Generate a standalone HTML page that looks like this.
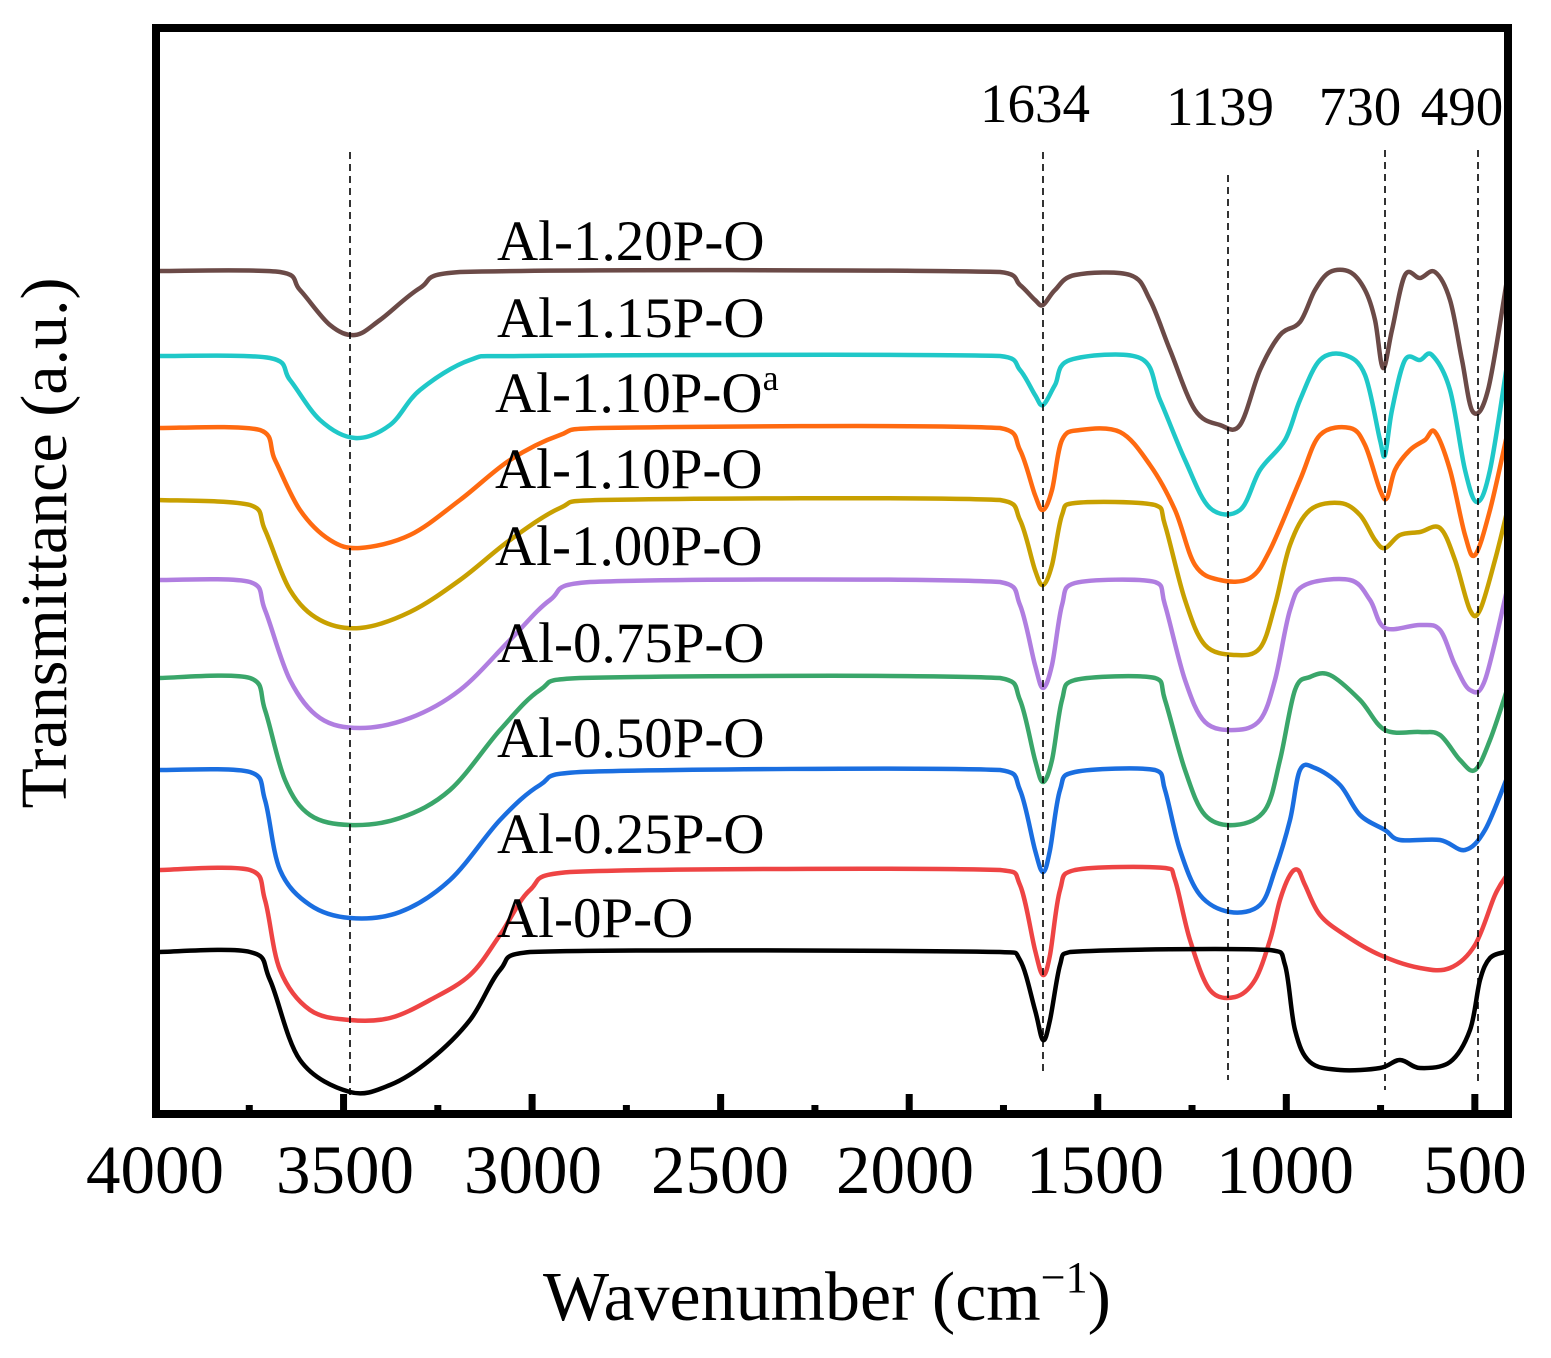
<!DOCTYPE html>
<html><head><meta charset="utf-8"><style>
html,body{margin:0;padding:0;background:#fff;}
svg{display:block;}
text{font-family:"Liberation Serif",serif;fill:#000;}
</style></head><body>
<svg id="s" width="1551" height="1358" viewBox="0 0 1551 1358" xmlns="http://www.w3.org/2000/svg">
<g id="curves" fill="none" stroke-width="4.5" stroke-linejoin="round"></g>
<g stroke="#000" stroke-width="1.6" stroke-dasharray="7,5">
<line x1="350" y1="152" x2="350" y2="1095"/>
<line x1="1043" y1="152" x2="1043" y2="1075"/>
<line x1="1228" y1="175" x2="1228" y2="1080"/>
<line x1="1385" y1="150" x2="1385" y2="1090"/>
<line x1="1478" y1="150" x2="1478" y2="1085"/>
</g>
<rect x="156" y="28" width="1352" height="1086" fill="none" stroke="#000" stroke-width="8"/>
<g id="ticks" fill="#000"></g>
<g font-size="69" text-anchor="middle">
<text x="155" y="1193">4000</text><text x="345" y="1193">3500</text><text x="533" y="1193">3000</text>
<text x="720" y="1193">2500</text><text x="905" y="1193">2000</text><text x="1095" y="1193">1500</text>
<text x="1285" y="1193">1000</text><text x="1475" y="1193">500</text>
</g>
<g font-size="55" text-anchor="middle">
<text x="1035" y="122">1634</text><text x="1220" y="125">1139</text>
<text x="1360" y="125">730</text><text x="1462" y="125">490</text>
</g>
<g font-size="57">
<text x="497" y="260">Al-1.20P-O</text>
<text x="497" y="337">Al-1.15P-O</text>
<text x="495" y="412">Al-1.10P-O<tspan font-size="36" dy="-22">a</tspan></text>
<text x="495" y="488">Al-1.10P-O</text>
<text x="495" y="565">Al-1.00P-O</text>
<text x="497" y="662">Al-0.75P-O</text>
<text x="497" y="757">Al-0.50P-O</text>
<text x="497" y="853">Al-0.25P-O</text>
<text x="497" y="937">Al-0P-O</text>
</g>
<text x="543" y="1320" font-size="70">Wavenumber (cm<tspan font-size="44" dy="-28">−1</tspan><tspan dy="28">)</tspan></text>
<text transform="translate(66,543) rotate(-90)" font-size="66" text-anchor="middle">Transmittance (a.u.)</text>
</svg>
<script>
var NS="http://www.w3.org/2000/svg";
var tk=document.getElementById("ticks");
for(var w=3750;w>=500;w-=250){var x=155+(4000-w)*0.3771;var major=(w%500==0);
var r=document.createElementNS(NS,"rect");r.setAttribute("x",x-3.5);r.setAttribute("width",7);
var h=major?18:7;r.setAttribute("y",1112-h);r.setAttribute("height",h);tk.appendChild(r);}
var C=[
["#6b4a47",[[158,271],[280,272],[300,290],[330,325],[355,335],[380,320],[420,288],[460,272],[1000,272],[1020,285],[1035,300],[1043,305],[1055,290],[1075,275],[1130,275],[1150,300],[1170,350],[1195,410],[1220,425],[1240,425],[1260,370],[1280,335],[1300,322],[1315,290],[1330,272],[1350,272],[1365,290],[1375,320],[1383,368],[1392,330],[1405,275],[1420,278],[1435,272],[1450,300],[1462,360],[1473,412],[1488,390],[1507,280]]],
["#1fc8c8",[[158,356],[270,358],[290,380],[320,420],[355,438],[390,425],[420,390],[470,360],[520,356],[1000,356],[1020,370],[1035,395],[1043,405],[1055,385],[1070,360],[1140,358],[1160,400],[1185,460],[1210,508],[1240,510],[1260,470],[1285,440],[1300,400],[1320,360],[1345,355],[1365,375],[1380,440],[1385,455],[1392,410],[1405,360],[1420,360],[1432,355],[1450,390],[1465,470],[1477,502],[1490,470],[1507,365]]],
["#ff6a10",[[158,428],[260,430],[275,460],[300,510],[330,540],[360,548],[410,535],[460,500],[510,460],[560,435],[600,428],[1000,428],[1020,450],[1035,495],[1043,510],[1052,490],[1062,440],[1080,430],[1120,432],[1150,465],[1175,510],[1195,565],[1220,580],[1250,578],[1270,550],[1300,480],[1320,435],[1350,428],[1365,445],[1380,490],[1387,498],[1395,470],[1410,450],[1425,440],[1435,432],[1450,470],[1465,535],[1475,555],[1490,510],[1507,435]]],
["#c8a000",[[158,500],[250,505],[265,530],[290,590],[320,620],[360,628],[410,612],[460,580],[510,540],[560,508],[600,500],[1000,500],[1020,520],[1035,570],[1043,585],[1052,565],[1062,515],[1075,503],[1155,505],[1165,525],[1185,600],[1205,645],[1235,655],[1260,648],[1275,605],[1290,545],[1310,510],[1340,503],[1360,515],[1375,540],[1385,548],[1400,535],[1420,532],[1440,528],[1455,560],[1470,610],[1480,610],[1495,560],[1507,512]]],
["#b07ee0",[[158,580],[250,582],[265,610],[290,680],[320,718],[360,728],[410,718],[460,690],[510,640],[550,600],[590,582],[1000,582],[1020,605],[1035,665],[1043,688],[1052,665],[1062,605],[1075,583],[1155,582],[1165,605],[1185,680],[1205,722],[1235,730],[1260,720],[1275,680],[1290,610],[1305,585],[1350,580],[1370,600],[1385,628],[1420,625],[1440,630],[1455,665],[1470,690],[1485,680],[1507,590]]],
["#3aa66a",[[158,678],[250,678],[265,710],[285,780],[310,815],[350,825],[400,818],[450,790],[500,730],[540,690],[580,678],[1000,678],[1020,700],[1035,760],[1043,782],[1052,760],[1062,700],[1075,680],[1155,678],[1165,700],[1185,770],[1205,815],[1235,825],[1265,810],[1280,760],[1295,690],[1310,677],[1330,675],[1360,700],[1385,730],[1420,732],[1440,735],[1460,760],[1475,770],[1490,740],[1507,690]]],
["#1a6ee0",[[158,770],[250,772],[265,800],[280,870],[310,905],[350,918],[400,912],[450,880],[500,820],[540,785],[580,772],[1000,770],[1020,790],[1035,850],[1043,872],[1050,850],[1060,790],[1075,772],[1155,770],[1165,790],[1180,850],[1200,895],[1230,912],[1260,905],[1275,870],[1290,820],[1300,770],[1315,768],[1340,785],[1360,815],[1385,830],[1400,840],[1440,840],[1465,850],[1485,830],[1507,778]]],
["#ee4444",[[158,870],[250,870],[265,900],[280,970],[310,1010],[350,1020],[390,1018],[430,1000],[470,975],[500,935],[530,890],[570,872],[1000,870],[1020,885],[1035,950],[1043,975],[1050,955],[1060,890],[1075,870],[1165,868],[1175,880],[1190,940],[1210,990],[1235,997],[1255,980],[1270,940],[1280,900],[1290,875],[1298,870],[1305,885],[1320,915],[1345,935],[1380,955],[1420,968],[1450,968],[1475,945],[1495,895],[1507,875]]],
["#000000",[[158,952],[250,952],[270,980],[300,1060],[350,1092],[390,1085],[430,1060],[470,1020],[500,970],[530,952],[1000,952],[1020,960],[1035,1010],[1043,1040],[1050,1020],[1060,965],[1070,952],[1270,950],[1285,965],[1295,1030],[1310,1062],[1340,1070],[1380,1068],[1400,1060],[1420,1068],[1450,1062],[1470,1030],[1480,980],[1490,958],[1505,952]]]
];
var g=document.getElementById("curves");
C.forEach(function(c){var p=c[1];var d="M"+p[0][0]+","+p[0][1];
for(var i=0;i<p.length-1;i++){var p0=p[i>0?i-1:0],p1=p[i],p2=p[i+1],p3=p[i+2<p.length?i+2:i+1];
var t=0.5;var c1x=p1[0]+(p2[0]-p0[0])/6,c1y=p1[1]+(p2[1]-p0[1])/6,c2x=p2[0]-(p3[0]-p1[0])/6,c2y=p2[1]-(p3[1]-p1[1])/6;
c1x=Math.min(Math.max(c1x,p1[0]),p2[0]);c2x=Math.min(Math.max(c2x,p1[0]),p2[0]);
d+=" C"+c1x.toFixed(1)+","+c1y.toFixed(1)+" "+c2x.toFixed(1)+","+c2y.toFixed(1)+" "+p2[0]+","+p2[1];}
var e=document.createElementNS(NS,"path");e.setAttribute("d",d);e.setAttribute("stroke",c[0]);g.appendChild(e);});
</script>
</body></html>
